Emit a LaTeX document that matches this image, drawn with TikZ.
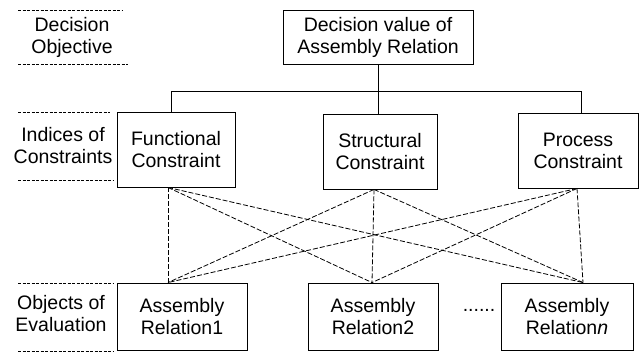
\documentclass[tikz,border=0pt]{standalone}
\usepackage{fontspec}
\setmainfont{Liberation Sans}
\begin{document}
\begin{tikzpicture}[x=1pt,y=-1pt,
  lbl/.style={align=center,font=\fontsize{19.5}{22}\selectfont,inner sep=0pt},
  box/.style={draw,line width=0.9pt,align=center,font=\fontsize{19.5}{22}\selectfont,inner sep=0pt},
  tree/.style={line width=0.9pt},
  link/.style={line width=0.8pt,dash pattern=on 5pt off 2pt},
  divider/.style={line width=0.8pt,dash pattern=on 3pt off 1.5pt}]
\useasboundingbox (0,0) rectangle (639,352);
% boxes
\node[box,minimum width=190pt,minimum height=54pt] (top) at (378,37) {Decision value of\\Assembly Relation};
\node[box,minimum width=118pt,minimum height=75pt] (func) at (176,149.5) {Functional\\Constraint};
\node[box,minimum width=114pt,minimum height=75pt] (str) at (380,151.5) {Structural\\Constraint};
\node[box,minimum width=120pt,minimum height=75pt] (proc) at (578,150.5) {Process\\Constraint};
\node[box,minimum width=130pt,minimum height=67pt] (ar1) at (182,316.5) {Assembly\\Relation1};
\node[box,minimum width=130pt,minimum height=67pt] (ar2) at (373,316.5) {Assembly\\Relation2};
\node[box,minimum width=132pt,minimum height=67pt] (arn) at (567,316.5) {Assembly\\Relation\textit{n}};
\node[lbl] (dots) at (479,310) {......};
% left labels
\node[lbl] (l1) at (72,37) {Decision\\Objective};
\node[lbl] (l2) at (63,146) {Indices of\\Constraints};
\node[lbl] (l3) at (61,314) {Objects of\\Evaluation};
\draw[divider] (18,10) -- (123,10);
\draw[divider] (18,64) -- (128,64);
\draw[divider] (18,112) -- (110,112);
\draw[divider] (18,180) -- (113,180);
\draw[divider] (18,283) -- (113,283);
\draw[divider] (18,351) -- (113,351);
% tree connectors
\coordinate (bus) at (0,91);
\draw[tree] (top.south) -- (top.south |- str.north);
\draw[tree] ([xshift=-5pt]func.north) |- ([xshift=3pt]proc.north |- bus) -- ([xshift=3pt]proc.north);
% dashed links
\coordinate (f) at ([xshift=-8pt]func.south);
\coordinate (s) at ([xshift=-6pt]str.south);
\coordinate (p) at ([xshift=-1pt]proc.south);
\coordinate (a) at ([xshift=-14pt]ar1.north);
\coordinate (b) at ([xshift=-1pt]ar2.north);
\coordinate (c) at ([xshift=16pt]arn.north);
\foreach \u in {f,s,p}{
  \foreach \v in {a,b,c}{
    \draw[link] (\u) -- (\v);
  }
}
\end{tikzpicture}
\end{document}
